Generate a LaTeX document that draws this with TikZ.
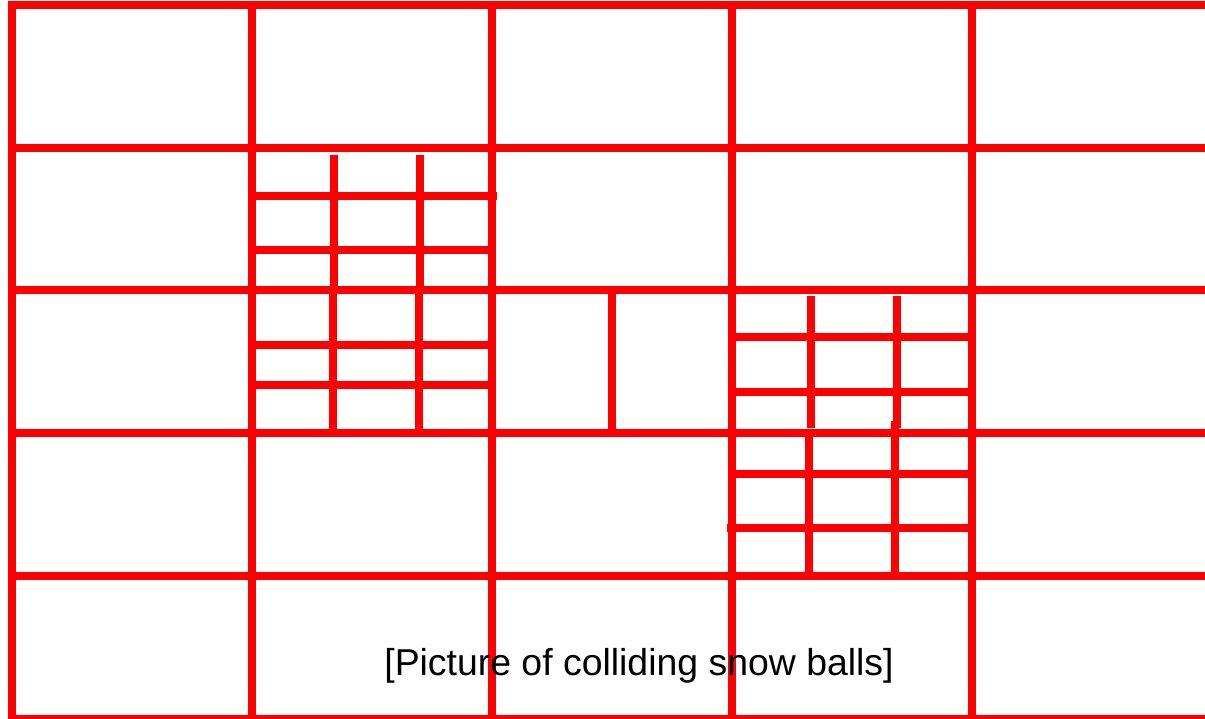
\documentclass[tikz,border=0pt]{standalone}
\usepackage{fontspec}
\setmainfont{Liberation Sans}
\begin{document}
\begin{tikzpicture}[x=1pt,y=-1pt,
  gridline/.style={draw=red, line width=8pt},
  caption/.style={font=\fontsize{37.4}{44}\selectfont, text=black, inner sep=0pt, anchor=base}]
\useasboundingbox (0,0) rectangle (1205,719);
\begin{scope}
\clip (0,0) rectangle (1205,719);
% main grid
\foreach \y in {5,148,290.5,433,576,719} \draw[gridline] (8,\y) -- (1205,\y);
\foreach \x in {12.3,252.3,492.3,732.3,972.3} \draw[gridline] (\x,1) -- (\x,719);
% left refined block, upper cell
\draw[gridline] (256,195.7) -- (497,195.7);
\draw[gridline] (256,250.3) -- (490,250.3);
\draw[gridline] (334.3,155) -- (334.3,287);
\draw[gridline] (420.3,155) -- (420.3,287);
% left refined block, lower cell
\draw[gridline] (256,345) -- (490,345);
\draw[gridline] (256,385) -- (490,385);
\draw[gridline] (332.7,290) -- (332.7,433);
\draw[gridline] (418.7,290) -- (418.7,433);
% middle cell split
\draw[gridline] (612.3,290) -- (612.3,433);
% right refined block, upper cell
\draw[gridline] (736,336.7) -- (968,336.7);
\draw[gridline] (736,391.7) -- (968,391.7);
\draw[gridline] (810.7,296) -- (810.7,428);
\draw[gridline] (896.7,296) -- (896.7,428);
% right refined block, lower cell
\draw[gridline] (736,474.3) -- (968,474.3);
\draw[gridline] (727,527.7) -- (968,527.7);
\draw[gridline] (809,433) -- (809,576);
\draw[gridline] (895,421) -- (895,576);
\end{scope}
\node[caption] (cap) at (639,675.3) {[Picture of colliding snow balls]};
\end{tikzpicture}
\end{document}
